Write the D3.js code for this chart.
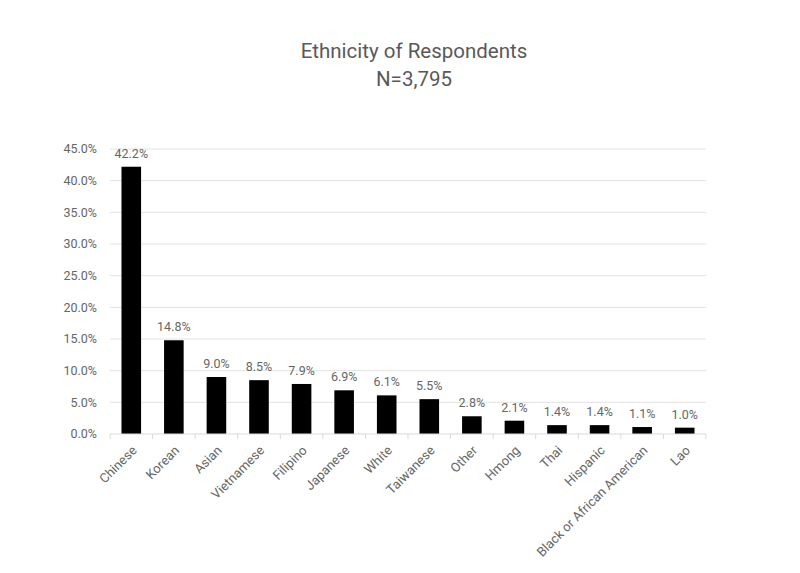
<!DOCTYPE html>
<html>
<head>
<meta charset="utf-8">
<script src="https://cdn.jsdelivr.net/npm/d3@7"></script>
<style>
  body { margin: 0; background: #fff; }
  text { font-family: Roboto, sans-serif; }
</style>
</head>
<body>
<div id="chart"></div>
<script>
// Ethnicity of respondents, share of N=3,795
const categories = ['Chinese', 'Korean', 'Asian', 'Vietnamese', 'Filipino', 'Japanese', 'White',
  'Taiwanese', 'Other', 'Hmong', 'Thai', 'Hispanic', 'Black or African American', 'Lao'];
const shares = [42.2, 14.8, 9.0, 8.5, 7.9, 6.9, 6.1, 5.5, 2.8, 2.1, 1.4, 1.4, 1.1, 1.0];
const yTicks = [0, 5, 10, 15, 20, 25, 30, 35, 40, 45];

(function() {
  const width = 800;
  const height = 573;
  const margin = { top: 149, right: 94, bottom: 139, left: 110 };
  const innerW = width - margin.left - margin.right;
  const innerH = height - margin.top - margin.bottom;

  const svg = d3.select('#chart').append('svg')
    .attr('width', width)
    .attr('height', height);

  svg.append('text')
    .attr('x', 414).attr('y', 58)
    .attr('text-anchor', 'middle')
    .style('font-size', '20.5px')
    .attr('fill', '#595959')
    .text('Ethnicity of Respondents');
  svg.append('text')
    .attr('x', 414).attr('y', 86)
    .attr('text-anchor', 'middle')
    .style('font-size', '20.5px')
    .attr('fill', '#595959')
    .text('N=3,795');

  const g = svg.append('g').attr('transform', `translate(${margin.left},${margin.top})`);

  const x = d3.scaleBand().domain(categories).range([0, innerW]).paddingInner(0.54).paddingOuter(0.27);
  const y = d3.scaleLinear().domain([0, 45]).range([innerH, 0]);

  // gridlines
  g.append('g')
    .selectAll('line')
    .data(yTicks.slice(1))
    .enter().append('line')
    .attr('x1', 0).attr('x2', innerW)
    .attr('y1', d => y(d)).attr('y2', d => y(d))
    .attr('stroke', '#e3e3e3');

  // y tick labels
  g.append('g')
    .selectAll('text')
    .data(yTicks)
    .enter().append('text')
    .attr('x', -13)
    .attr('y', d => y(d))
    .attr('dy', '0.35em')
    .attr('text-anchor', 'end')
    .style('font-size', '12.5px')
    .attr('fill', '#666')
    .text(d => d.toFixed(1) + '%');

  // bars
  g.append('g')
    .selectAll('rect')
    .data(shares)
    .enter().append('rect')
    .attr('x', (d, i) => x(categories[i]))
    .attr('y', d => y(d))
    .attr('width', x.bandwidth())
    .attr('height', d => innerH - y(d))
    .attr('fill', '#000');

  // value labels
  g.append('g')
    .selectAll('text')
    .data(shares)
    .enter().append('text')
    .attr('x', (d, i) => x(categories[i]) + x.bandwidth() / 2)
    .attr('y', d => y(d) - 9)
    .attr('text-anchor', 'middle')
    .style('font-size', '12.5px')
    .attr('fill', '#666')
    .text(d => d.toFixed(1) + '%');

  // baseline + ticks between categories
  g.append('line')
    .attr('x1', 0).attr('x2', innerW)
    .attr('y1', innerH).attr('y2', innerH)
    .attr('stroke', '#d9d9d9');
  const step = x.step();
  g.append('g')
    .selectAll('line')
    .data(d3.range(categories.length + 1))
    .enter().append('line')
    .attr('x1', i => i * step).attr('x2', i => i * step)
    .attr('y1', innerH).attr('y2', innerH + 5)
    .attr('stroke', '#d9d9d9');

  // rotated category labels
  g.append('g')
    .selectAll('text')
    .data(categories)
    .enter().append('text')
    .attr('transform', d => `translate(${x(d) + x.bandwidth() / 2 + 3},${innerH + 14}) rotate(-45)`)
    .attr('text-anchor', 'end')
    .attr('dy', '0.35em')
    .style('font-size', '13px')
    .attr('fill', '#666')
    .text(d => d);
})();
</script>
</body>
</html>
